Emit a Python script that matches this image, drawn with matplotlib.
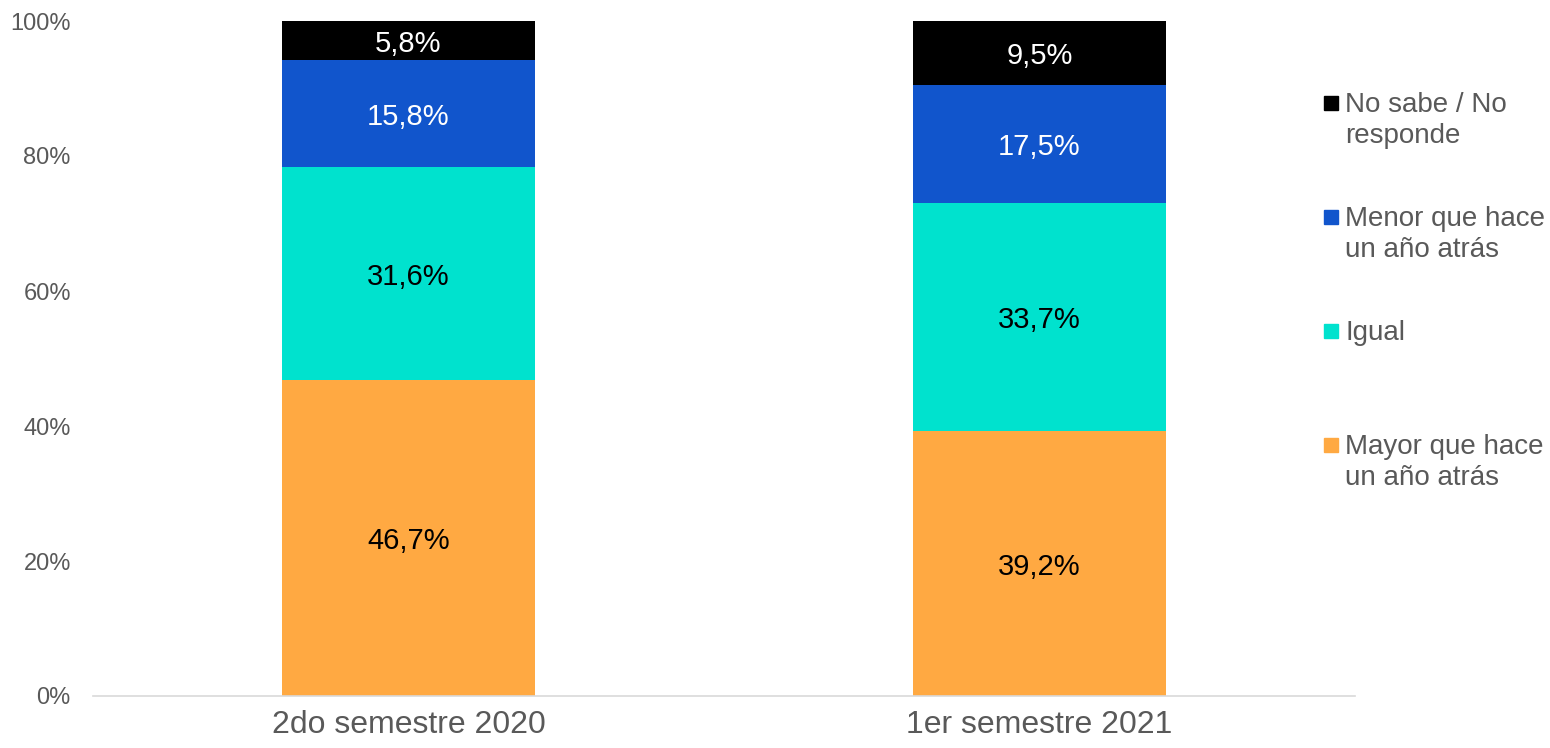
import matplotlib
matplotlib.use("Agg")
import matplotlib.pyplot as plt
from matplotlib.patches import Rectangle
import numpy as np

plt.rcParams['font.family'] = ['Liberation Sans', 'DejaVu Sans']

categories = ["2do semestre 2020", "1er semestre 2021"]
series_names = ["Mayor que hace\nun año atrás", "Igual", "Menor que hace\nun año atrás", "No sabe / No\nresponde"]
mayor = [46.7, 39.2]
igual = [31.6, 33.7]
menor = [15.8, 17.5]
nsnr = [5.8, 9.5]
colors = ["#FFA942", "#00E2CE", "#1155CC", "#000000"]
label_colors = ["black", "black", "white", "white"]
yticks = [0, 20, 40, 60, 80, 100]
ytick_labels = ["0%", "20%", "40%", "60%", "80%", "100%"]

W, H = 1550, 748
fig = plt.figure(figsize=(W / 100, H / 100), dpi=100)
ax = fig.add_axes([93 / W, 1 - 696 / H, (1355 - 93) / W, (696 - 21) / H])

data = np.array([mayor, igual, menor, nsnr])
totals = data.sum(axis=0)
norm = data / totals * 100
x = np.arange(len(categories))
bottom = np.zeros(len(categories))
for i in range(len(data)):
    ax.bar(x, norm[i], 0.4, bottom=bottom, color=colors[i], edgecolor='none')
    for j in range(len(categories)):
        ax.text(x[j], bottom[j] + norm[i][j] / 2, f"{data[i][j]:.1f}".replace('.', ',') + "%",
                ha='center', va='center_baseline', fontsize=21, color=label_colors[i])
    bottom += norm[i]

ax.set_xlim(-0.5, 1.5)
ax.set_ylim(0, 100)
ax.set_yticks(yticks)
ax.set_yticklabels(ytick_labels)
ax.set_xticks(x)
ax.set_xticklabels(categories)
ax.tick_params(axis='y', length=0, pad=16, labelsize=17, labelcolor='#595959')
ax.tick_params(axis='x', length=0, pad=10, labelsize=23, labelcolor='#595959')
for s in ['top', 'right', 'left']:
    ax.spines[s].set_visible(False)
ax.spines['bottom'].set_color('#D9D9D9')
ax.spines['bottom'].set_linewidth(1.2)

# legend (top entry first)
first_line_centers = [103, 217, 331, 445]
order = [3, 2, 1, 0]
for k, idx in enumerate(order):
    yc = first_line_centers[k]
    fig.patches.append(Rectangle((1324 / W, 1 - (yc + 7) / H), 14 / W, 14 / H,
                                 transform=fig.transFigure, color=colors[idx]))
    fig.text(1345 / W, 1 - (yc - 11) / H, series_names[idx], ha='left', va='top',
             fontsize=20, color='#595959', linespacing=1.27)

fig.savefig("out.png", dpi=100)
